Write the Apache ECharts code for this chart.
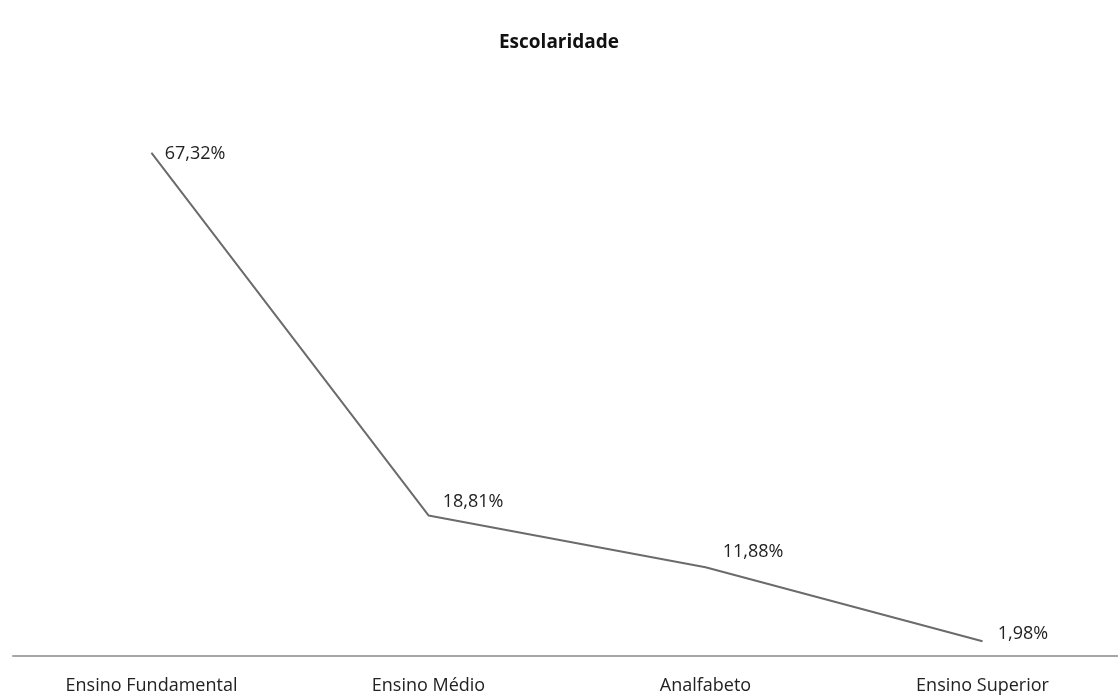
<!DOCTYPE html>
<html>
<head>
<meta charset="utf-8">
<script src="https://cdn.jsdelivr.net/npm/echarts@6/dist/echarts.min.js"></script>
<style>
  html, body { margin: 0; padding: 0; background: #fff; }
  #chart { width: 1118px; height: 695px; }
</style>
</head>
<body>
<div id="chart"></div>
<script>
  const categories = ['Ensino Fundamental', 'Ensino Médio', 'Analfabeto', 'Ensino Superior'];
  const percentages = [67.32, 18.81, 11.88, 1.98];

  // label nudges, roughly as placed in the original
  const labelOffsets = [[13, 1], [14, -14], [17, -15], [15, -7]];

  const chart = echarts.init(document.getElementById('chart'));

  chart.setOption({
    animation: false,
    textStyle: { fontFamily: '"Open Sans", sans-serif' },
    title: {
      text: 'Escolaridade',
      left: 'center',
      top: 28,
      textStyle: { fontSize: 19, fontWeight: 'bold', color: '#111' },
    },
    grid: {
      left: 13,
      width: 1108,
      top: 58,
      bottom: 39,
      containLabel: false,
      outerBoundsMode: 'none',
    },
    xAxis: {
      type: 'category',
      data: categories,
      boundaryGap: true,
      axisLine: { lineStyle: { color: '#a6a6a6', width: 2 } },
      axisTick: { show: false },
      axisLabel: { color: '#222', fontSize: 18, margin: 21 },
    },
    yAxis: {
      type: 'value',
      min: 0,
      max: 80,
      show: false,
    },
    series: [
      {
        type: 'line',
        data: percentages.map((v, i) => ({
          value: v,
          label: { show: true, offset: labelOffsets[i] },
        })),
        symbol: 'circle',
        symbolSize: 0.5,
        showSymbol: true,
        itemStyle: { color: '#6b6b6b' },
        lineStyle: { color: '#6b6b6b', width: 2 },
        label: {
          show: true,
          position: 'right',
          distance: 0,
          color: '#222',
          fontSize: 18,
          formatter: p => p.value.toFixed(2).replace('.', ',') + '%',
        },
      },
    ],
  });
</script>
</body>
</html>
